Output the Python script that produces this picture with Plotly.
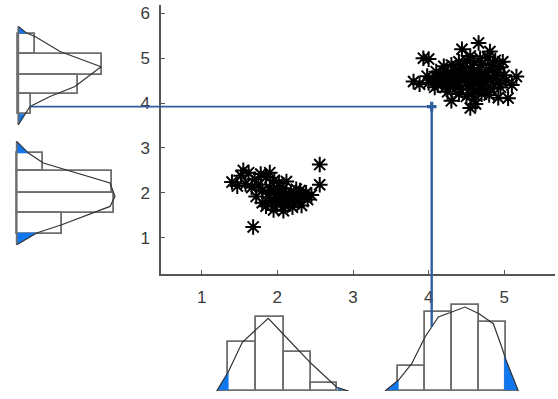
import numpy as np
import plotly.graph_objects as go

# ---------------- data ----------------
c1_x = [2.56, 2.56, 1.68, 1.40, 1.55,
        1.52, 1.62, 1.70, 1.78, 1.85, 1.58, 1.66, 1.75, 1.47, 1.90, 1.96,
        1.95, 2.02, 2.08, 2.12, 2.18, 2.05, 1.98, 2.22, 2.15, 2.25, 2.30, 2.35,
        2.10, 2.00, 1.92, 2.28, 2.40, 2.38, 1.88, 1.80, 1.85, 1.95, 2.08, 2.20,
        2.45, 2.02, 2.12, 1.72, 1.80, 2.32, 2.05, 2.15, 1.98, 2.25, 1.90, 2.10]
c1_y = [2.63, 2.18, 1.24, 2.24, 2.50,
        2.38, 2.45, 2.30, 2.42, 2.35, 2.20, 2.12, 2.18, 2.15, 2.45, 2.28,
        2.05, 1.98, 2.10, 1.92, 2.02, 1.85, 1.90, 1.88, 1.80, 1.95, 2.05, 1.92,
        1.72, 1.75, 1.82, 1.80, 1.85, 2.00, 1.98, 2.05, 1.70, 1.62, 1.60, 1.68,
        1.95, 2.22, 2.25, 1.92, 1.78, 1.72, 2.00, 1.88, 1.78, 2.08, 2.12, 1.95]

c2_x = [3.80, 3.88, 3.93, 4.00, 4.44, 4.66, 4.81, 4.55, 5.16, 5.10, 5.05, 4.55, 4.62, 4.30, 4.92,
        4.05, 4.10, 4.15, 4.20, 4.25, 4.30, 4.35, 4.40, 4.45, 4.50, 4.55, 4.60, 4.65, 4.70, 4.75,
        4.80, 4.85, 4.90, 4.95, 5.00,
        4.12, 4.22, 4.32, 4.42, 4.52, 4.62, 4.72, 4.82, 4.92, 4.40, 4.50, 4.60, 4.70, 4.80,
        4.30, 4.40, 4.50, 4.60, 4.68, 4.78, 4.88, 4.20, 4.85, 4.98,
        4.00, 3.98, 4.08, 4.45, 4.55, 4.65, 4.35, 4.25, 4.95, 5.02, 4.75, 4.58,
        4.18, 4.28, 4.38, 4.48, 4.58, 4.68, 4.78, 4.88, 4.15, 4.35, 4.55, 4.75, 4.45, 4.65, 4.25]
c2_y = [4.48, 4.42, 5.00, 4.98, 5.20, 5.34, 5.15, 5.05, 4.59, 4.40, 4.11, 3.89, 3.98, 4.05, 4.12,
        4.55, 4.70, 4.62, 4.50, 4.68, 4.58, 4.72, 4.60, 4.50, 4.66, 4.78, 4.58, 4.70, 4.85, 4.62,
        4.75, 4.55, 4.68, 4.80, 4.62,
        4.40, 4.35, 4.42, 4.30, 4.38, 4.28, 4.40, 4.32, 4.45, 4.20, 4.15, 4.08, 4.20, 4.18,
        4.85, 4.92, 4.95, 4.90, 5.00, 5.02, 4.95, 4.82, 4.88, 4.92,
        4.45, 4.60, 4.35, 4.80, 4.45, 4.52, 4.48, 4.25, 4.35, 4.50, 4.30, 4.22,
        4.60, 4.52, 4.62, 4.55, 4.68, 4.62, 4.52, 4.60, 4.52, 4.40, 4.55, 4.48, 4.70, 4.42, 4.45]

# bottom histograms (x in data units, counts)
hb1_edges = [1.352, 1.718, 2.088, 2.445, 2.785]
hb1_counts = [5.94, 8.99, 4.79, 1.01]
hb1_curve_x = [1.198, 1.352, 1.537, 1.718, 1.880, 2.088, 2.445, 2.785, 2.938]
hb1_curve_h = [0, 2.35, 5.94, 7.52, 8.87, 6.83, 3.38, 0.45, 0]
hb1_tails = (1.352, 2.80)

hb2_edges = [3.599, 3.952, 4.305, 4.666, 5.023]
hb2_counts = [3.05, 9.63, 10.45, 8.41]
hb2_curve_x = [3.423, 3.599, 3.776, 3.952, 4.128, 4.305, 4.481, 4.666, 4.855, 4.966, 5.023, 5.185]
hb2_curve_h = [0, 1.30, 3.33, 6.59, 9.02, 9.63, 10.24, 9.43, 8.21, 5.37, 3.74, 0]
hb2_tails = (3.60, 5.00)

# left histograms (y in data units, counts)
hl1_edges = [5.532, 5.098, 4.630, 4.194, 3.751]
hl1_counts = [2.04, 10.17, 7.32, 1.55]
hl1_curve_y = [5.706, 5.559, 5.483, 5.149, 4.808, 4.370, 4.147, 3.924, 3.517]
hl1_curve_h = [0, 1.02, 2.04, 5.09, 10.09, 6.91, 3.87, 1.43, 0]
hl1_tails = (3.75, 5.56)

hl2_edges = [2.893, 2.481, 1.987, 1.550, 1.078]
hl2_counts = [3.24, 11.59, 11.83, 5.49]
hl2_curve_y = [3.145, 2.886, 2.664, 2.218, 1.920, 1.697, 1.290, 1.105, 0.844]
hl2_curve_h = [0, 1.42, 3.24, 11.38, 11.99, 11.38, 5.49, 2.44, 0]
hl2_tails = (1.105, 2.886)

guide_x, guide_y = 4.04, 3.92

x_ticks = [1, 2, 3, 4, 5]
y_ticks = [1, 2, 3, 4, 5, 6]

# ---------------- layout geometry ----------------
W, H = 558, 399
X_RANGE = [0.462, 5.67]
Y_RANGE = [0.1915, 6.185]
X2_RANGE = [-2.232, 17.40]
X4_RANGE = [-2.037, 17.60]
Y3_RANGE = [0, 14.27]

BAR_LINE = "#6e6e6e"
CURVE = "#333333"
TAIL = "#1177ee"
GUIDE = "#2d5f9e"

fig = go.Figure()


def centers_widths(edges):
    e = np.array(edges, dtype=float)
    return (e[:-1] + e[1:]) / 2, np.abs(np.diff(e))


def tail_polys(cx, ch, lo, hi):
    cx = np.array(cx, float)
    ch = np.array(ch, float)
    order = np.argsort(cx)
    cx, ch = cx[order], ch[order]
    polys = []
    m = cx <= lo
    xs = list(cx[m]) + [lo]
    hs = list(ch[m]) + [float(np.interp(lo, cx, ch))]
    polys.append((xs + [lo, xs[0]], hs + [0, 0]))
    m = cx >= hi
    xs = [hi] + list(cx[m])
    hs = [float(np.interp(hi, cx, ch))] + list(ch[m])
    polys.append((xs + [xs[-1], hi, hi], hs + [0, 0, hs[0]]))
    return polys


# bottom histograms
for edges, counts, cx, ch, tails in [
    (hb1_edges, hb1_counts, hb1_curve_x, hb1_curve_h, hb1_tails),
    (hb2_edges, hb2_counts, hb2_curve_x, hb2_curve_h, hb2_tails),
]:
    c, w = centers_widths(edges)
    fig.add_trace(go.Bar(x=c, y=counts, width=w, xaxis="x", yaxis="y3",
                         marker=dict(color="white", line=dict(color=BAR_LINE, width=1.8)),
                         showlegend=False, hoverinfo="skip"))
    for px_, ph_ in tail_polys(cx, ch, *tails):
        fig.add_trace(go.Scatter(x=px_, y=ph_, xaxis="x", yaxis="y3", mode="lines",
                                 fill="toself", fillcolor=TAIL, line=dict(color=TAIL, width=0.5),
                                 showlegend=False, hoverinfo="skip"))
    fig.add_trace(go.Scatter(x=[cx[0], cx[-1]], y=[0, 0], xaxis="x", yaxis="y3", mode="lines",
                             line=dict(color=BAR_LINE, width=1.8), showlegend=False, hoverinfo="skip"))
    fig.add_trace(go.Scatter(x=cx, y=ch, xaxis="x", yaxis="y3", mode="lines",
                             line=dict(color=CURVE, width=1.2), showlegend=False, hoverinfo="skip"))

# left histograms
for xa, edges, counts, cy, ch, tails in [
    ("x2", hl1_edges, hl1_counts, hl1_curve_y, hl1_curve_h, hl1_tails),
    ("x4", hl2_edges, hl2_counts, hl2_curve_y, hl2_curve_h, hl2_tails),
]:
    c, w = centers_widths(edges)
    fig.add_trace(go.Bar(y=c, x=counts, width=w, orientation="h", xaxis=xa, yaxis="y",
                         marker=dict(color="white", line=dict(color=BAR_LINE, width=1.8)),
                         showlegend=False, hoverinfo="skip"))
    for py_, ph_ in tail_polys(cy, ch, *tails):
        fig.add_trace(go.Scatter(y=py_, x=ph_, xaxis=xa, yaxis="y", mode="lines",
                                 fill="toself", fillcolor=TAIL, line=dict(color=TAIL, width=0.5),
                                 showlegend=False, hoverinfo="skip"))
    fig.add_trace(go.Scatter(y=[cy[0], cy[-1]], x=[0, 0], xaxis=xa, yaxis="y", mode="lines",
                             line=dict(color=BAR_LINE, width=1.8), showlegend=False, hoverinfo="skip"))
    fig.add_trace(go.Scatter(y=cy, x=ch, xaxis=xa, yaxis="y", mode="lines",
                             line=dict(color=CURVE, width=1.2), showlegend=False, hoverinfo="skip"))

# scatter clusters
for xs, ys in [(c1_x, c1_y), (c2_x, c2_y)]:
    fig.add_trace(go.Scatter(x=xs, y=ys, mode="markers", xaxis="x", yaxis="y",
                             marker=dict(symbol="asterisk-open", size=13, color="black",
                                         line=dict(color="black", width=2)),
                             showlegend=False, hoverinfo="skip"))

# guide lines from the selected point to the marginal densities
h_left = float(np.interp(guide_y, hl1_curve_y[::-1], hl1_curve_h[::-1]))
h_bottom = float(np.interp(guide_x, hb2_curve_x, hb2_curve_h))
fig.add_trace(go.Scatter(x=[h_left, X2_RANGE[1]], y=[guide_y, guide_y], xaxis="x2", yaxis="y",
                         mode="lines", line=dict(color=GUIDE, width=1.6),
                         showlegend=False, hoverinfo="skip"))
fig.add_trace(go.Scatter(x=[X_RANGE[0], guide_x], y=[guide_y, guide_y],
                         xaxis="x", yaxis="y", mode="lines", line=dict(color=GUIDE, width=1.6),
                         showlegend=False, hoverinfo="skip"))
fig.add_trace(go.Scatter(x=[guide_x, guide_x], y=[guide_y, Y_RANGE[0]],
                         xaxis="x", yaxis="y", mode="lines", line=dict(color=GUIDE, width=2.4),
                         showlegend=False, hoverinfo="skip"))
fig.add_trace(go.Scatter(x=[guide_x, guide_x], y=[Y3_RANGE[1], h_bottom], xaxis="x", yaxis="y3",
                         mode="lines", line=dict(color=GUIDE, width=2.4),
                         showlegend=False, hoverinfo="skip"))
fig.add_trace(go.Scatter(x=[guide_x], y=[guide_y], xaxis="x", yaxis="y", mode="markers",
                         marker=dict(symbol="cross", size=8, color=GUIDE),
                         showlegend=False, hoverinfo="skip"))

font = dict(family="Liberation Sans, Arial, sans-serif", size=17, color="#3a3a3a")
axis_common = dict(showgrid=False, zeroline=False, showline=True, linecolor="#555555",
                   linewidth=1.5, ticks="inside", ticklen=4, tickcolor="#555555",
                   tickwidth=1.2, tickfont=font)
hidden = dict(visible=False, showgrid=False, zeroline=False, fixedrange=True)

fig.update_layout(
    width=W, height=H,
    margin=dict(l=0, r=0, t=0, b=0),
    paper_bgcolor="white", plot_bgcolor="rgba(0,0,0,0)",
    bargap=0, barmode="overlay",
    xaxis=dict(domain=[161 / W, 555 / W], range=X_RANGE, tickvals=x_ticks,
               anchor="y", ticklabelstandoff=7, **axis_common),
    yaxis=dict(domain=[1 - 274 / H, 1 - 5 / H], range=Y_RANGE, tickvals=y_ticks,
               anchor="x", ticklabelstandoff=6, **axis_common),
    xaxis2=dict(domain=[0, 161 / W], range=X2_RANGE, anchor="y", **hidden),
    xaxis4=dict(domain=[0, 161 / W], range=X4_RANGE, anchor="y", overlaying="x2", **hidden),
    yaxis3=dict(domain=[1 - 391 / H, 1 - 274 / H], range=Y3_RANGE, anchor="x", **hidden),
)

fig.write_html("out.html", config={"displayModeBar": False},
               post_script="document.body.style.margin='0';document.body.style.overflow='hidden';")
